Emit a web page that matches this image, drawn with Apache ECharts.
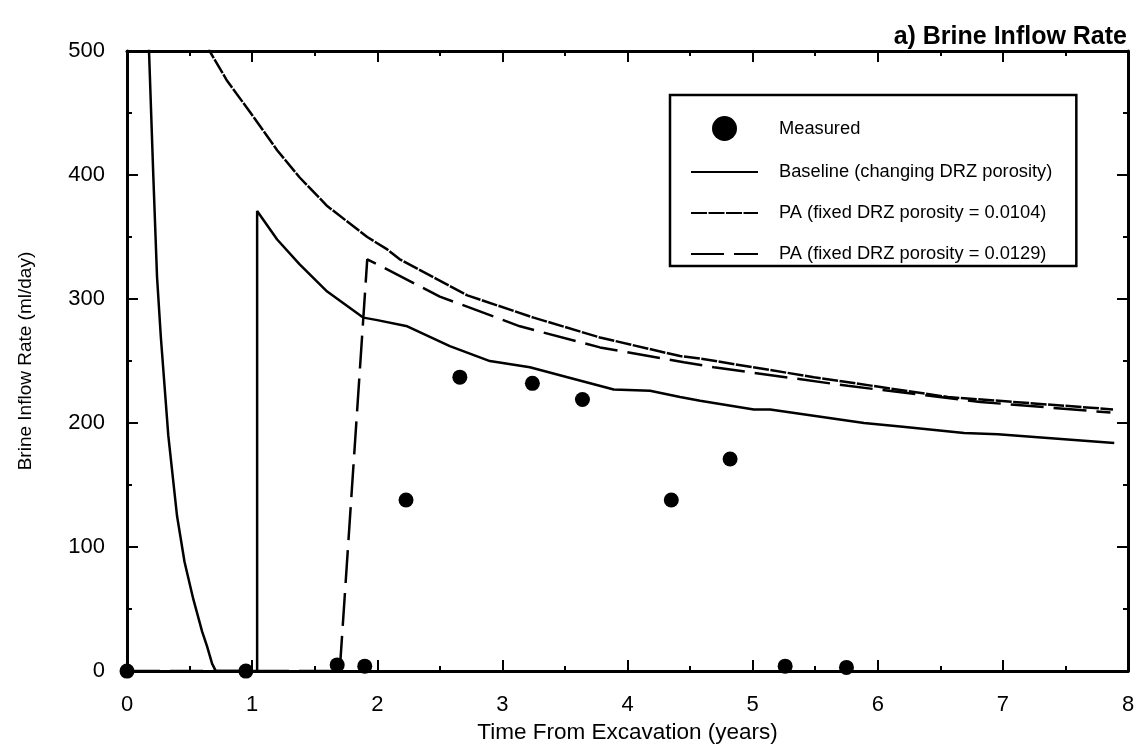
<!DOCTYPE html>
<html>
<head>
<meta charset="utf-8">
<script src="https://cdn.jsdelivr.net/npm/echarts@6/dist/echarts.min.js"></script>
<style>
  html, body { margin: 0; padding: 0; background: #fff; }
  #chart { width: 1140px; height: 749px; }
</style>
</head>
<body>
<div id="chart"></div>
<script>
// Axis ticks
const xTicks = [0, 1, 2, 3, 4, 5, 6, 7, 8];
const yTicks = [0, 100, 200, 300, 400, 500];

// Measured brine inflow: [time (years), rate (ml/day)]
const measured = [
  [0.00, 0], [0.95, 0], [1.68, 5], [1.90, 4], [2.23, 138], [2.66, 237],
  [3.24, 232], [3.64, 219], [4.35, 138], [4.82, 171], [5.26, 4], [5.75, 3]
];

// Baseline model (changing DRZ porosity)
const baseline = [
  [0.17, 530], [0.176, 500], [0.21, 400], [0.24, 318], [0.27, 270], [0.33, 190],
  [0.40, 125], [0.46, 88], [0.53, 58], [0.60, 32], [0.64, 20], [0.68, 6],
  [0.71, 0], [1.04, 0], [1.04, 371], [1.20, 348], [1.38, 328], [1.60, 306],
  [1.89, 285], [2.00, 283], [2.24, 278], [2.58, 262], [2.90, 250], [3.22, 245],
  [3.52, 237], [3.89, 227], [4.18, 226], [4.42, 221], [4.58, 218], [5.01, 211],
  [5.14, 211], [5.89, 200], [6.20, 197], [6.69, 192], [6.96, 191], [7.89, 184]
];

// PA model, fixed DRZ porosity = 0.0104
const pa0104 = [
  [0.62, 520], [0.66, 500], [0.80, 476], [1.01, 447], [1.20, 420], [1.38, 398],
  [1.60, 375], [1.92, 350], [2.08, 340], [2.18, 332], [2.72, 303], [3.25, 285],
  [3.78, 269], [4.42, 254], [4.58, 252], [5.49, 237], [6.56, 221], [7.88, 211]
];

// PA model, fixed DRZ porosity = 0.0129
const pa0129 = [
  [0.00, 0], [1.70, 0], [1.92, 332], [2.00, 328], [2.50, 302], [3.14, 278],
  [3.78, 261], [4.45, 249], [4.69, 245], [5.76, 230], [6.82, 217], [7.86, 208.5]
];

const FONT = 'Liberation Sans, Arial, Helvetica, sans-serif';
const chart = echarts.init(document.getElementById('chart'));

// Frame axes: ticks point into the plot on all four sides
const tickStyle = () => ({ show: true, inside: true, length: 11, lineStyle: { color: '#000', width: 2 } });
const minorStyle = () => ({ show: true, splitNumber: 2, length: 5, lineStyle: { color: '#000', width: 2 } });
const lineAxis = () => ({ show: true, onZero: false, lineStyle: { color: '#000', width: 3 } });
// Legend entries for curves show only the line sample
const hiddenSymbol = { opacity: 0 };

chart.setOption({
  animation: false,
  backgroundColor: '#fff',
  title: {
    text: 'a) Brine Inflow Rate',
    right: 8, top: 20,
    textStyle: { fontFamily: FONT, fontSize: 25, fontWeight: 'bold', color: '#000' }
  },
  legend: {
    orient: 'vertical',
    left: 670, top: 95,
    padding: [21, 24, 2, 20],
    borderColor: '#000', borderWidth: 2.5,
    itemWidth: 67, itemHeight: 25, itemGap: 21,
    textStyle: { fontFamily: FONT, fontSize: 18.3, color: '#000', padding: [0, 0, 0, 16] },
    data: [
      { name: 'Measured', icon: 'circle' },
      { name: 'Baseline (changing DRZ porosity)', itemStyle: hiddenSymbol },
      { name: 'PA (fixed DRZ porosity = 0.0104)', itemStyle: hiddenSymbol },
      { name: 'PA (fixed DRZ porosity = 0.0129)', itemStyle: hiddenSymbol }
    ]
  },
  grid: { left: 127, right: 12, top: 51, bottom: 77, containLabel: false },
  xAxis: [
    {
      type: 'value', min: 0, max: 8, interval: 1, position: 'bottom',
      name: 'Time From Excavation (years)', nameLocation: 'middle', nameGap: 46,
      nameTextStyle: { fontFamily: FONT, fontSize: 22.5, color: '#000' },
      axisLine: lineAxis(), axisTick: tickStyle(), minorTick: minorStyle(),
      axisLabel: { fontFamily: FONT, fontSize: 22, color: '#000', margin: 23,
        formatter: v => xTicks.includes(v) ? String(v) : '' },
      splitLine: { show: false }
    },
    {
      type: 'value', min: 0, max: 8, interval: 1, position: 'top',
      axisLine: lineAxis(), axisTick: tickStyle(), minorTick: minorStyle(),
      axisLabel: { show: false }, splitLine: { show: false }
    }
  ],
  yAxis: [
    {
      type: 'value', min: 0, max: 500, interval: 100, position: 'left',
      name: 'Brine Inflow Rate (ml/day)', nameLocation: 'middle', nameGap: 92,
      nameTextStyle: { fontFamily: FONT, fontSize: 19, color: '#000' },
      axisLine: lineAxis(), axisTick: tickStyle(), minorTick: minorStyle(),
      axisLabel: { fontFamily: FONT, fontSize: 22, color: '#000', margin: 22,
        formatter: v => yTicks.includes(v) ? String(v) : '' },
      splitLine: { show: false }
    },
    {
      type: 'value', min: 0, max: 500, interval: 100, position: 'right',
      axisLine: lineAxis(), axisTick: tickStyle(), minorTick: minorStyle(),
      axisLabel: { show: false }, splitLine: { show: false }
    }
  ],
  series: [
    {
      name: 'Measured', type: 'scatter', data: measured,
      symbol: 'circle', symbolSize: 15,
      itemStyle: { color: '#000', opacity: 1 }, z: 5, clip: false
    },
    {
      name: 'Baseline (changing DRZ porosity)', type: 'line', data: baseline,
      showSymbol: false, symbol: 'none', clip: true,
      lineStyle: { color: '#000', width: 2.5, type: 'solid' },
      itemStyle: { color: '#000' }
    },
    {
      name: 'PA (fixed DRZ porosity = 0.0104)', type: 'line', data: pa0104,
      showSymbol: false, symbol: 'none', clip: true,
      lineStyle: { color: '#000', width: 2.5, type: [16, 1.5] },
      itemStyle: { color: '#000' }
    },
    {
      name: 'PA (fixed DRZ porosity = 0.0129)', type: 'line', data: pa0129,
      showSymbol: false, symbol: 'none', clip: true,
      lineStyle: { color: '#000', width: 2.5, type: [33, 10] },
      itemStyle: { color: '#000' }
    }
  ]
});
</script>
</body>
</html>
